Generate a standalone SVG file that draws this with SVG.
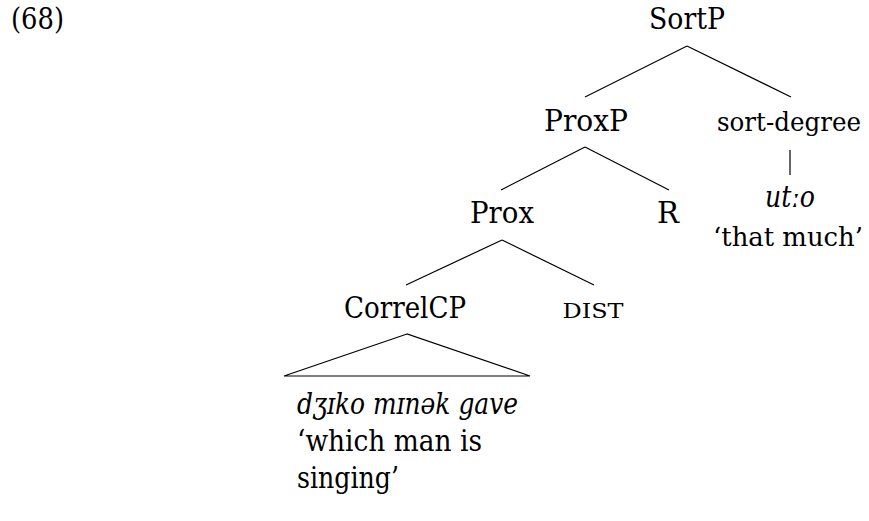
<svg xmlns="http://www.w3.org/2000/svg" width="869" height="521" viewBox="0 0 869 521" font-family="'DejaVu Serif', serif" font-size="29">
<style>
.c{text-anchor:middle}
.i{font-style:italic}
.sc{font-variant:small-caps}
.s{font-size:26px}
.e line,.e polygon{stroke:#000;stroke-width:1.2;fill:none}
</style>
<rect width="869" height="521" fill="#fff"/>
<text id="ex" x="11" y="29" textLength="53" lengthAdjust="spacingAndGlyphs">(68)</text>
<g class="e" id="connectors">
<line x1="687" y1="46" x2="585" y2="97"/>
<line x1="687" y1="46" x2="791" y2="97"/>
<line x1="585" y1="147" x2="501" y2="190"/>
<line x1="585" y1="147" x2="669" y2="190"/>
<line x1="790" y1="150" x2="790" y2="175"/>
<line x1="502" y1="240" x2="406" y2="285"/>
<line x1="502" y1="240" x2="594" y2="285"/>
<polygon points="407,334 284,376 530,376"/>
</g>
<g id="n-sortp"><text class="c" x="687" y="29" textLength="76" lengthAdjust="spacingAndGlyphs">SortP</text></g>
<g id="n-proxp"><text class="c" x="586" y="131" textLength="84" lengthAdjust="spacingAndGlyphs">ProxP</text></g>
<g id="n-sortdeg"><text class="c s" x="789" y="131" textLength="144" lengthAdjust="spacingAndGlyphs">sort-degree</text></g>
<g id="n-prox"><text class="c" x="502" y="223" textLength="64" lengthAdjust="spacingAndGlyphs">Prox</text></g>
<g id="n-r"><text class="c" x="668" y="223" textLength="22" lengthAdjust="spacingAndGlyphs">R</text></g>
<g id="n-uto"><text class="c i" x="790" y="207" textLength="50" lengthAdjust="spacingAndGlyphs">utːo</text><text class="c s" x="788" y="246" textLength="150" lengthAdjust="spacingAndGlyphs">‘that much’</text></g>
<g id="n-correlcp"><text class="c" x="405" y="318" textLength="122" lengthAdjust="spacingAndGlyphs">CorrelCP</text></g>
<g id="n-dist"><text class="c sc" x="593" y="318" textLength="61" lengthAdjust="spacingAndGlyphs">dist</text></g>
<g id="n-leaf"><text class="i" x="297" y="414" textLength="221" lengthAdjust="spacingAndGlyphs">dʒɪko mɪnək gave</text><text x="297" y="451" textLength="185" lengthAdjust="spacingAndGlyphs">‘which man is</text><text x="297" y="488" textLength="102" lengthAdjust="spacingAndGlyphs">singing’</text></g>
</svg>
